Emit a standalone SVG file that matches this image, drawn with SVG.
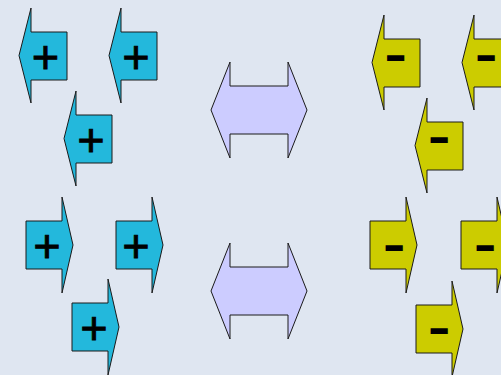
<svg xmlns="http://www.w3.org/2000/svg" width="501" height="375" viewBox="0 0 501 375">
<defs>
<style>
.bg{fill:#dfe6f1}
.pos{fill:#23b8dc;stroke:#1a1a1a;stroke-width:1;stroke-linejoin:miter}
.neg{fill:#cccc00;stroke:#1a1a1a;stroke-width:1}
.dbl{fill:#ccccff;stroke:#1a1a1a;stroke-width:1}
.plus{font-family:"Liberation Sans",Arial,sans-serif;font-size:47px;fill:#000;stroke:#000;stroke-width:0.8;text-anchor:middle}
.minus{font-family:"DejaVu Sans",sans-serif;font-weight:bold;font-size:40px;fill:#000;text-anchor:middle}
</style>
<path id="al" d="M0,47.5 L12,0 L12,24 L48,24 L48,72 L12,72 L12,95 Z"/>
<path id="ar" d="M47,48 L36,0 L36,24 L0,24 L0,72 L36,72 L36,96 Z"/>
</defs>
<rect class="bg" x="0" y="0" width="501" height="375"/>
<g id="pos-left-1"><use href="#al" class="pos" x="19" y="8"/><text class="plus" x="45.5" y="72.5">+</text></g>
<g id="pos-left-2"><use href="#al" class="pos" x="109" y="8"/><text class="plus" x="136" y="72.5">+</text></g>
<g id="pos-left-3"><use href="#al" class="pos" x="64" y="91"/><text class="plus" x="91" y="155.5">+</text></g>
<g id="pos-right-1"><use href="#ar" class="pos" x="26" y="197"/><text class="plus" x="47" y="261.5">+</text></g>
<g id="pos-right-2"><use href="#ar" class="pos" x="116" y="197"/><text class="plus" x="136" y="261.5">+</text></g>
<g id="pos-right-3"><use href="#ar" class="pos" x="72" y="279"/><text class="plus" x="94" y="343.5">+</text></g>
<g id="dbl-top"><path class="dbl" d="M211,110 L230,62 L230,86 L288,86 L288,62 L307,110 L288,158 L288,134 L230,134 L230,158 Z"/></g>
<g id="dbl-bottom"><path class="dbl" d="M211,291 L230,243 L230,267 L288,267 L288,243 L307,291 L288,339 L288,315 L230,315 L230,339 Z"/></g>
<g id="neg-left-1"><use href="#al" class="neg" x="372" y="15"/><text class="minus" transform="translate(395.5,70) scale(1.4,1)">-</text></g>
<g id="neg-left-2"><use href="#al" class="neg" x="462" y="15"/><text class="minus" transform="translate(486,70) scale(1.4,1)">-</text></g>
<g id="neg-left-3"><use href="#al" class="neg" x="415" y="98"/><text class="minus" transform="translate(439,152) scale(1.4,1)">-</text></g>
<g id="neg-right-1"><use href="#ar" class="neg" x="370" y="197"/><text class="minus" transform="translate(394,260) scale(1.4,1)">-</text></g>
<g id="neg-right-2"><use href="#ar" class="neg" x="461" y="197"/><text class="minus" transform="translate(485,260) scale(1.4,1)">-</text></g>
<g id="neg-right-3"><use href="#ar" class="neg" x="416" y="281"/><text class="minus" transform="translate(439,343) scale(1.4,1)">-</text></g>
</svg>
